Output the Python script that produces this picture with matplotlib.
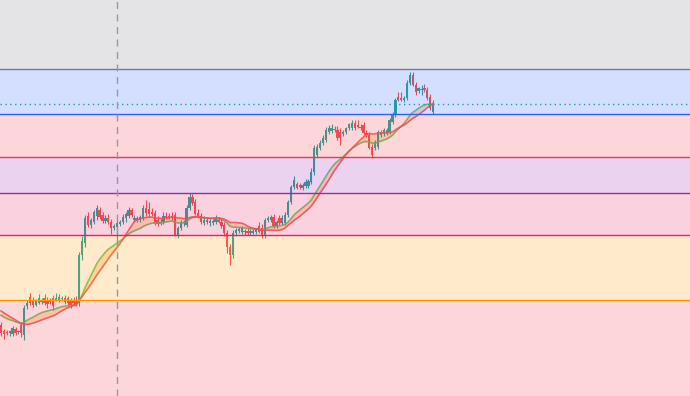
import matplotlib
matplotlib.use("Agg")
import matplotlib.pyplot as plt
import numpy as np
import pandas as pd

UP = "#26a69a"
DOWN = "#ef5350"
MA_FAST = "#6cb85c"
MA_SLOW = "#f25550"
MA_FILL = "#ff9800"

# closes before the first visible bar, only used to warm up the averages
history = [103, 105, 104, 106, 104, 103, 105, 104, 102, 104,
           84, 82, 80, 79, 78, 77, 76, 75, 74, 72]

opens = [75, 69, 68, 67, 66, 71, 68, 75, 65, 94,
         103, 100, 95, 97, 98, 102, 100, 100, 102, 100,
         100, 101, 102, 102, 100, 100, 100, 97, 145, 157,
         184, 175, 178, 184, 190, 185, 179, 182, 178, 172,
         173, 176, 178, 182, 184, 190, 180, 180, 180, 182,
         192, 191, 188, 187, 180, 177, 178, 184, 184, 184,
         185, 165, 172, 177, 175, 192, 203, 198, 187, 184,
         177, 178, 177, 177, 178, 180, 178, 175, 167, 153,
         145, 167, 169, 168, 168, 169, 167, 167, 168, 174,
         172, 164, 180, 180, 183, 174, 182, 177, 177, 185,
         198, 213, 216, 215, 212, 214, 214, 218, 228, 245,
         252, 257, 260, 268, 269, 270, 270, 268, 266, 268,
         272, 272, 277, 275, 273, 275, 267, 265, 253, 252,
         253, 265, 266, 267, 268, 278, 285, 303, 302, 300,
         302, 317, 325, 315, 309, 310, 312, 310, 303, 288]
highs = [78, 71, 70, 70, 74, 73, 70, 78, 95, 100,
         107, 103, 101, 106, 102, 106, 103, 102, 105, 107,
         106, 104, 105, 104, 102, 103, 104, 148, 164, 185,
         188, 182, 190, 195, 193, 188, 185, 186, 181, 176,
         180, 180, 186, 188, 193, 192, 185, 184, 185, 195,
         200, 198, 192, 190, 184, 181, 188, 188, 187, 188,
         188, 174, 180, 180, 195, 207, 206, 201, 191, 187,
         184, 182, 181, 181, 185, 183, 182, 178, 170, 156,
         170, 172, 173, 174, 171, 172, 171, 171, 172, 178,
         176, 182, 184, 185, 186, 180, 185, 185, 188, 200,
         215, 224, 218, 217, 217, 221, 221, 232, 255, 256,
         260, 265, 273, 275, 276, 274, 274, 272, 270, 273,
         277, 280, 280, 280, 276, 278, 270, 268, 256, 260,
         270, 270, 272, 272, 282, 288, 302, 308, 308, 304,
         320, 328, 328, 318, 313, 315, 316, 313, 306, 300]
lows = [64, 61, 65, 64, 64, 65, 66, 63, 60, 91,
        95, 93, 94, 96, 96, 95, 92, 96, 90, 99,
        98, 99, 96, 94, 92, 95, 94, 94, 140, 153,
        173, 172, 176, 180, 181, 177, 177, 176, 166, 170,
        158, 174, 176, 178, 182, 183, 178, 178, 178, 180,
        184, 183, 184, 175, 174, 175, 176, 181, 181, 180,
        164, 162, 170, 174, 173, 190, 195, 185, 182, 176,
        175, 176, 174, 175, 176, 177, 172, 164, 147, 135,
        142, 164, 167, 166, 165, 165, 165, 166, 166, 167,
        162, 162, 178, 178, 172, 172, 175, 175, 175, 183,
        196, 211, 211, 211, 210, 212, 212, 216, 225, 243,
        250, 255, 258, 266, 267, 268, 260, 255, 264, 266,
        270, 270, 270, 272, 270, 265, 263, 251, 242, 250,
        251, 263, 264, 265, 266, 276, 283, 299, 299, 298,
        300, 315, 314, 305, 307, 305, 308, 300, 290, 286]
closes = [67, 66, 67, 69, 72, 67, 69, 67, 92, 97,
          97, 95, 100, 102, 100, 97, 96, 98, 94, 102,
          103, 101.5, 98, 97, 95, 97, 96, 145, 159, 182,
          175, 180, 188, 192, 183, 179, 182, 178, 172, 174,
          177, 178, 183, 186, 190, 185, 182, 182, 183, 192,
          187, 186, 186, 177, 176, 178, 184, 183, 183, 183,
          165, 172, 177, 177.5, 192, 203, 197, 186, 184, 178,
          180, 180, 179, 179, 182, 178, 174, 167, 153, 145,
          167, 170, 171, 172, 168.5, 167, 169, 169, 171, 168,
          164, 180, 182, 183, 174, 178, 177, 182, 185, 198,
          213, 220, 212, 213, 215, 218, 219, 228, 252, 253,
          257, 262, 270, 272, 272, 271, 262, 262, 268, 272,
          276, 277, 272, 273, 272.5, 267, 265, 252, 245, 258,
          268, 268, 270, 270, 280, 285, 300, 300, 300, 302,
          317, 325, 315, 308, 312, 311, 310, 302, 292, 296]

# horizontal zones: each level and the zone below it share a colour
levels = [330.7, 285.7, 242.7, 206.7, 164.7, 100.0]
level_colors = ["#787b86", "#2962ff", "#f23645", "#9c27b0", "#e91e63", "#ff9800"]
bottom_color = "#f23645"
marker_bar = 40

n = len(closes)
x = np.arange(n)
o = np.array(opens, float)
h = np.array(highs, float)
l = np.array(lows, float)
c = np.array(closes, float)

full = pd.Series(history + closes, dtype=float)
ema = full.ewm(span=20, adjust=False).mean().to_numpy()[len(history):]
sma = full.rolling(20, min_periods=1).mean().to_numpy()[len(history):]

fig = plt.figure(figsize=(6.9, 3.96), dpi=100)
ax = fig.add_axes([0, 0, 1, 1])
ax.set_xlim(-0.35, -0.35 + 690 / 2.9)
ax.set_ylim(4, 400)
ax.axis("off")

# candles
up = c >= o
colors = np.where(up, UP, DOWN)
ax.vlines(x, l, h, colors=colors, linewidth=0.8, zorder=2)
body = np.maximum(np.abs(c - o), 0.8)
ax.bar(x, body, bottom=np.minimum(o, c), width=0.8, color=colors,
       linewidth=0, antialiased=False, zorder=2)

# averages
ax.fill_between(x, ema, sma, color=MA_FILL, alpha=0.25, linewidth=0, zorder=1)
ax.plot(x, ema, color=MA_FAST, linewidth=1.2, alpha=0.85, zorder=2)
ax.plot(x, sma, color=MA_SLOW, linewidth=1.2, alpha=0.85, zorder=2)

# last price line
ax.axhline(c[-1], color=UP, linewidth=1, linestyle=(0, (1, 2.5)), zorder=2)

# zones laid over everything below
tops = [400] + levels
bottoms = levels + [4]
for top, bot, col in zip(tops, bottoms, level_colors + [bottom_color]):
    ax.axhspan(bot, top, color=col, alpha=0.2, linewidth=0, zorder=3)
for lev, col in zip(levels, level_colors):
    ax.axhline(lev, color=col, linewidth=1, zorder=4)

ax.axvline(marker_bar, color="#9598a1", linewidth=1, linestyle=(0, (5, 4)), zorder=4)

fig.savefig("out.png", dpi=100)
